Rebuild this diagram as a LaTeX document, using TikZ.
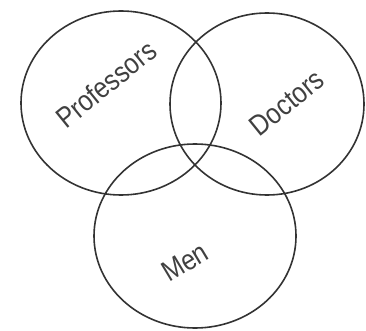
\documentclass[tikz,border=0pt]{standalone}
\usepackage{fontspec}
\setmainfont{Liberation Sans}
\newfontfamily\namefont[FakeStretch = 0.86]{Liberation Sans}
\usepackage{tikz}
\usetikzlibrary{shapes.geometric, positioning}

\tikzset{
    set/.style = {ellipse, draw = black!80, line width = 1.6pt, inner sep = 0pt},
    setname/.style = {text = black!75, font = \namefont\fontsize{29}{29}\selectfont, inner sep = 0pt}
}

\begin{document}
\begin{tikzpicture}[x = 1pt, y = -1pt]
            \useasboundingbox (0,0) rectangle (366,331);

            \node[set] (P) [minimum width = 200pt, minimum height = 184pt] at (121,103) {};
            \node[set] (D) [minimum width = 194pt, minimum height = 182pt] at (267,104) {};
            \node[set] (M) [minimum width = 202pt, minimum height = 184pt] at (195,236) {};

            \node[setname] (PL) [rotate = 39] at (106,84) {Professors};
            \node[setname] (DL) [rotate = 39] at (287,103) {Doctors};
            \node[setname] (ML) [rotate = 31] at (185,262) {Men};

        \end{tikzpicture}
\end{document}
